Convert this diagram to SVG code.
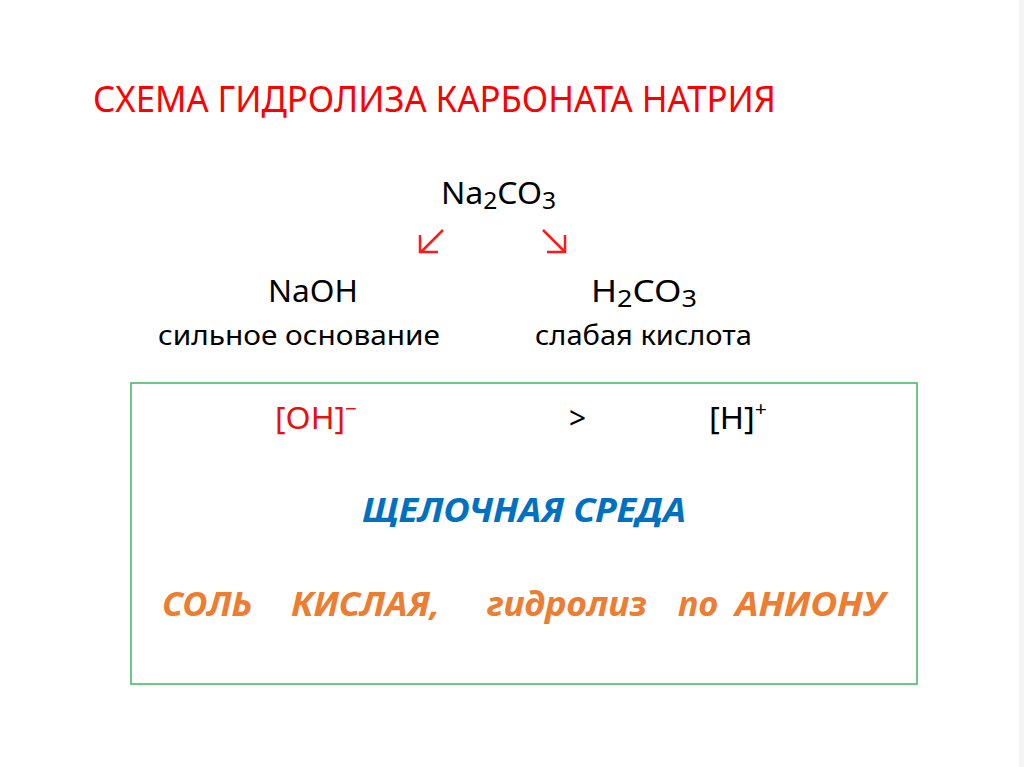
<svg xmlns="http://www.w3.org/2000/svg" width="1024" height="767" viewBox="0 0 1024 767">
<style>
text{font-family:"Noto Sans","Open Sans","Liberation Sans",sans-serif}
.blk{fill:#000}
.red{fill:#ff0000}
.rd2{fill:#e81010}
.blue{fill:#0070c0;font-weight:bold;font-style:italic}
.orng{fill:#ed7d31;font-weight:bold;font-style:italic}
.arr{stroke:#ff1a1a;stroke-width:2.5;fill:none;stroke-linecap:butt}
</style>
<rect x="0" y="0" width="1024" height="767" fill="#ffffff"/>
<rect x="1019" y="0" width="5" height="767" fill="#f4f4f4"/>
<g id="title">
<text class="red" x="93" y="112" font-size="36" textLength="683" lengthAdjust="spacingAndGlyphs">СХЕМА ГИДРОЛИЗА КАРБОНАТА НАТРИЯ</text>
</g>
<g id="na2co3">
<text class="blk" x="441" y="204" font-size="30" textLength="115" lengthAdjust="spacingAndGlyphs">Na<tspan font-size="23" dy="5">2</tspan><tspan dy="-5">CO</tspan><tspan font-size="23" dy="5">3</tspan></text>
</g>
<g id="connectors">
<path class="arr" d="M443 230 L421 252 M420 235 L420 252 L438 252"/>
<path class="arr" d="M543 230 L565 252 M565 235 L565 252 L547 252"/>
</g>
<g id="naoh">
<text class="blk" x="268" y="302" font-size="30" textLength="90" lengthAdjust="spacingAndGlyphs">NaOH</text>
<text class="blk" x="158" y="345" font-size="28" textLength="282" lengthAdjust="spacingAndGlyphs">сильное основание</text>
</g>
<g id="h2co3">
<text class="blk" x="591" y="302" font-size="30" textLength="106" lengthAdjust="spacingAndGlyphs">H<tspan font-size="23" dy="5">2</tspan><tspan dy="-5">CO</tspan><tspan font-size="23" dy="5">3</tspan></text>
<text class="blk" x="535" y="345" font-size="28" textLength="217" lengthAdjust="spacingAndGlyphs">слабая кислота</text>
</g>
<g id="box">
<rect x="131" y="383" width="786" height="301" fill="none" stroke="#3cb660" stroke-width="1.5"/>
<text class="rd2" x="275" y="429" font-size="31" textLength="82" lengthAdjust="spacingAndGlyphs">[OH]<tspan font-size="20" dy="-13">−</tspan></text>
<text class="blk" x="569" y="429" font-size="30">&gt;</text>
<text class="blk" x="709" y="429" font-size="31" textLength="58" lengthAdjust="spacingAndGlyphs">[H]<tspan font-size="20" dy="-13">+</tspan></text>
<text class="blue" x="362" y="522" font-size="34" textLength="324" lengthAdjust="spacingAndGlyphs">ЩЕЛОЧНАЯ СРЕДА</text>
<text class="orng" y="616" font-size="34"><tspan x="162" textLength="90" lengthAdjust="spacingAndGlyphs">СОЛЬ</tspan><tspan x="291" textLength="149" lengthAdjust="spacingAndGlyphs">КИСЛАЯ,</tspan><tspan x="487" textLength="160" lengthAdjust="spacingAndGlyphs">гидролиз</tspan><tspan x="678" textLength="40" lengthAdjust="spacingAndGlyphs">по</tspan><tspan x="735" textLength="150" lengthAdjust="spacingAndGlyphs">АНИОНУ</tspan></text>
</g>
</svg>
